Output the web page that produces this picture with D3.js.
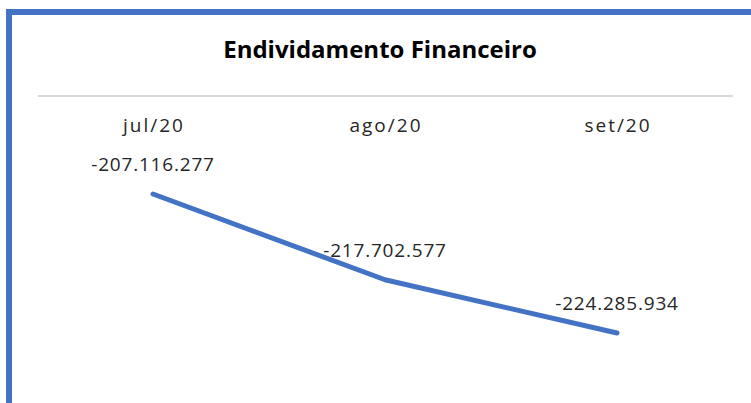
<!DOCTYPE html>
<html>
<head>
<meta charset="utf-8">
<script src="https://cdn.jsdelivr.net/npm/d3@7"></script>
<style>
    body { margin: 0; background: #fff; }
    text { font-family: "Open Sans", "Liberation Sans", sans-serif; fill: #262626; }
</style>
</head>
<body>
<div id="chart"></div>
<script>
// Chart data
var months = ["jul/20", "ago/20", "set/20"];
var debt = [-207116277, -217702577, -224285934];
var chartTitle = "Endividamento Financeiro";

// General chart parameters
var svgWidth = 751;
var svgHeight = 403;

var svg = d3.select("#chart")
    .append("svg")
    .attr("width", svgWidth)
    .attr("height", svgHeight);

// Blue frame (top and left edges visible)
svg.append("rect")
    .attr("x", 9)
    .attr("y", 12)
    .attr("width", 800)
    .attr("height", 500)
    .attr("fill", "none")
    .attr("stroke", "#4472C4")
    .attr("stroke-width", 6);

// Title
svg.append("text")
    .attr("x", 380)
    .attr("y", 58)
    .attr("text-anchor", "middle")
    .attr("font-size", 24)
    .attr("font-weight", "bold")
    .style("fill", "#000")
    .text(chartTitle);

// Scales
var xScale = d3.scaleBand()
    .domain(months)
    .range([37, 733]);

var yScale = d3.scaleLinear()
    .domain([-230000000, -200000000])
    .range([379.3, 136.4]);

// Top category axis
var topAxis = d3.axisTop(xScale).tickSize(0).tickPadding(0);
var xAxis = svg.append("g")
    .attr("transform", "translate(0, 132)")
    .call(topAxis);
xAxis.select(".domain").remove();
xAxis.selectAll("text")
    .attr("font-size", 19)
    .attr("font-family", null)
    .attr("fill", null)
    .attr("dx", 1)
    .style("letter-spacing", "2px");

// Gray rule under the title
svg.append("line")
    .attr("x1", 38)
    .attr("x2", 733)
    .attr("y1", 96)
    .attr("y2", 96)
    .attr("stroke", "#d9d9d9")
    .attr("stroke-width", 2);

var pts = months.map((m, i) => ({ month: m, value: debt[i] }));
var cx = d => xScale(d.month) + xScale.bandwidth() / 2;

// Line
var line = d3.line()
    .x(cx)
    .y(d => yScale(d.value));

svg.append("path")
    .datum(pts)
    .attr("d", line)
    .attr("fill", "none")
    .attr("stroke", "#4472C4")
    .attr("stroke-width", 5)
    .attr("stroke-linecap", "round")
    .attr("stroke-linejoin", "round");

// Data labels
var fmt = v => d3.format(",")(v).replace(/,/g, ".").replace("−", "-");
svg.selectAll(".lbl")
    .data(pts)
    .enter()
    .append("text")
    .attr("class", "lbl")
    .attr("x", cx)
    .attr("y", d => yScale(d.value) - 23)
    .attr("text-anchor", "middle")
    .attr("font-size", 19)
    .style("letter-spacing", "0.8px")
    .text(d => fmt(d.value));
</script>
</body>
</html>
